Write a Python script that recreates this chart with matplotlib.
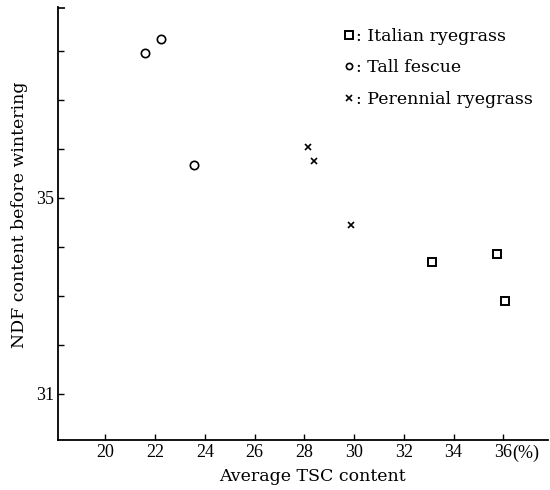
import matplotlib.pyplot as plt
from matplotlib.lines import Line2D

plt.rcParams['font.family'] = ['Liberation Serif', 'DejaVu Serif']
label_font = ['DejaVu Serif']

# Average TSC content (%) vs NDF content before wintering
italian_x = [33.13, 35.74, 36.06]
italian_y = [33.69, 33.86, 32.90]
fescue_x = [21.6, 22.25, 23.57]
fescue_y = [37.96, 38.24, 35.67]
perennial_x = [28.15, 28.4, 29.88]
perennial_y = [36.04, 35.76, 34.45]

x_ticks = [20, 22, 24, 26, 28, 30, 32, 34, 36]
y_ticks = [31, 32, 33, 34, 35, 36, 37, 38]
y_labels = ['31', '', '', '', '35', '', '', '']

fig = plt.figure(figsize=(5.5, 4.9), dpi=100)
ax = fig.add_axes([0.1055, 0.102, 0.891, 0.8837])

ax.plot(italian_x, italian_y, 's', ms=5.5, mfc='none', mec='black', mew=1.4)
ax.plot(fescue_x, fescue_y, 'o', ms=6, mfc='none', mec='black', mew=1.2)
ax.plot(perennial_x, perennial_y, 'x', ms=5, color='black', mew=1.2)

ax.set_xlim(18.1, 37.8)
ax.set_ylim(30.05, 38.9)
ax.set_xticks(x_ticks)
ax.set_xticklabels([str(t) for t in x_ticks])
ax.set_yticks(y_ticks)
ax.set_yticklabels(y_labels)
# small cap at the top of the y axis
ax.set_yticks([38.88], minor=True)
ax.tick_params(axis='y', which='minor', direction='in', length=5, width=1.2)
ax.tick_params(direction='in', length=4, width=1, labelsize=13, pad=3)
ax.text(36.35, 29.95, '(%)', fontsize=13, ha='left', va='top', clip_on=False)

for s in ['top', 'right']:
    ax.spines[s].set_visible(False)
for s in ['left', 'bottom']:
    ax.spines[s].set_linewidth(1.3)

ax.set_xlabel('Average TSC content', fontsize=12.5, family=label_font)
ax.xaxis.set_label_coords(0.52, -0.065)
ax.set_ylabel('NDF content before wintering', fontsize=12.5, family=label_font)
ax.yaxis.set_label_coords(-0.062, 0.52)

handles = [
    Line2D([], [], ls='none', marker='s', ms=5.5, mfc='none', mec='black', mew=1.4),
    Line2D([], [], ls='none', marker='o', ms=4.5, mfc='none', mec='black', mew=1.2),
    Line2D([], [], ls='none', marker='x', ms=5, color='black', mew=1.2),
]
labels = [': Italian ryegrass', ': Tall fescue', ': Perennial ryegrass']
ax.legend(handles, labels, loc='upper left', bbox_to_anchor=(0.568, 0.968),
          frameon=False, prop={'family': label_font, 'size': 12.5},
          handlelength=0.6, handletextpad=0.15, labelspacing=0.84,
          borderaxespad=0)

fig.savefig('out.png', dpi=100)
